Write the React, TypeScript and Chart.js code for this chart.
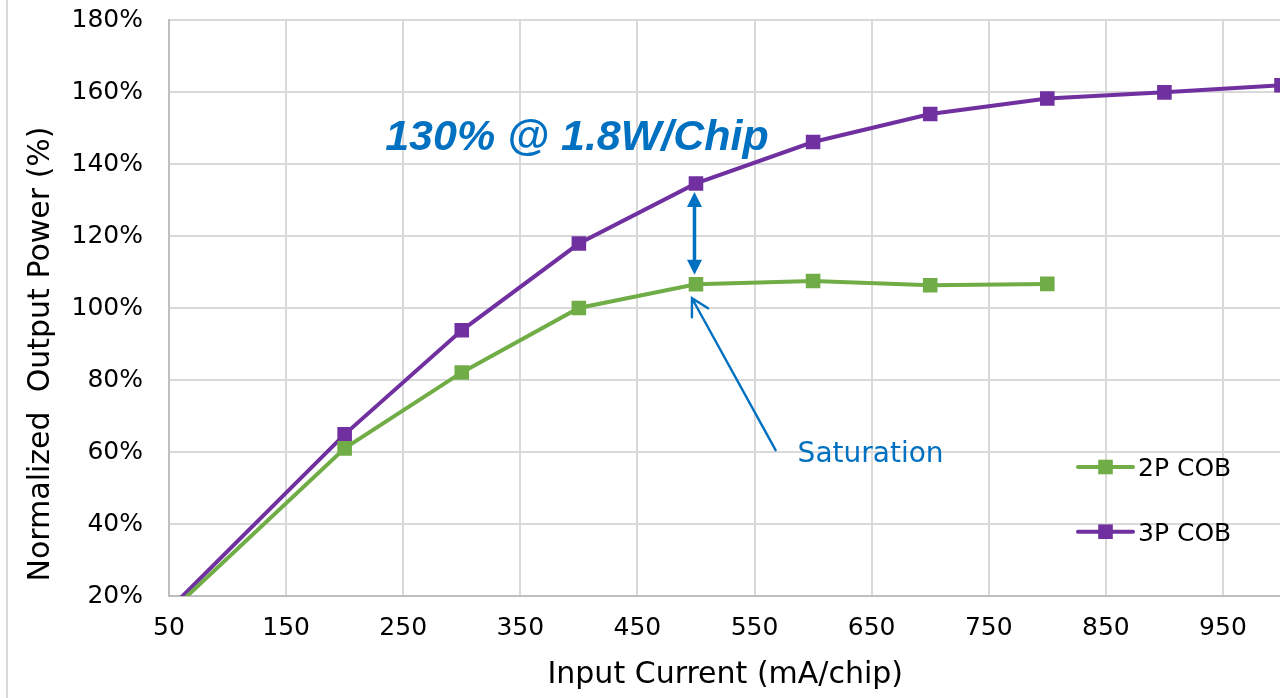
import React, { useEffect, useRef } from 'react';
import { Chart, registerables } from 'chart.js';

Chart.register(...registerables);

// Input current per chip (mA) and normalized output power (%) for each COB package
const currentMa = [0, 200, 300, 400, 500, 600, 700, 800, 900, 1000];
const output2P = [0, 61.0, 82.1, 100.0, 106.6, 107.5, 106.3, 106.7];
const output3P = [0, 64.9, 93.8, 117.9, 134.6, 146.1, 153.9, 158.2, 159.9, 161.9];
const seriesLabels = ['2P COB', '3P COB'];

// Axis ticks
const xTickValues = [50, 150, 250, 350, 450, 550, 650, 750, 850, 950];
const yMin = 20;
const yMax = 180;
const yStep = 20;

// Annotation texts
const headline = '130% @ 1.8W/Chip';
const calloutText = 'Saturation';
const compareAtMa = 500;
const xTitle = 'Input Current (mA/chip)';
const yTitle = 'Normalized  Output Power (%)';

const CANVAS_W = 1330;
const CANVAS_H = 698;
const GREEN = '#70AD47';
const PURPLE = '#7030A0';
const BLUE = '#0070C0';
const GRID = '#D9D9D9';
const AXIS = '#BFBFBF';
const FONT = '"DejaVu Sans", "Noto Sans", sans-serif';

function filledHead(ctx: CanvasRenderingContext2D, tx: number, ty: number, dx: number, dy: number, len: number, halfW: number) {
  const n = Math.hypot(dx, dy);
  const ux = dx / n;
  const uy = dy / n;
  const bx = tx - ux * len;
  const by = ty - uy * len;
  ctx.beginPath();
  ctx.moveTo(tx, ty);
  ctx.lineTo(bx - uy * halfW, by + ux * halfW);
  ctx.lineTo(bx + uy * halfW, by - ux * halfW);
  ctx.closePath();
  ctx.fill();
}

const overlayPlugin = {
  id: 'cobOverlay',
  afterDatasetsDraw(chart: any) {
    const { ctx, chartArea: area, scales } = chart;
    const xs = scales.x;
    const ys = scales.y;
    const idx = currentMa.indexOf(compareAtMa);
    ctx.save();

    // Headline
    ctx.fillStyle = BLUE;
    ctx.font = 'italic bold 43px "Liberation Sans", Arial, sans-serif';
    ctx.textAlign = 'left';
    ctx.textBaseline = 'alphabetic';
    ctx.fillText(headline, xs.getPixelForValue(234.6), ys.getPixelForValue(143.9));

    // Double-headed arrow between the two series
    const ax = xs.getPixelForValue(compareAtMa) - 1.5;
    const aTop = ys.getPixelForValue(output3P[idx]) + 8.5;
    const aBot = ys.getPixelForValue(output2P[idx]) - 9.5;
    ctx.strokeStyle = BLUE;
    ctx.lineWidth = 3.5;
    ctx.beginPath();
    ctx.moveTo(ax, aTop + 10);
    ctx.lineTo(ax, aBot - 10);
    ctx.stroke();
    filledHead(ctx, ax, aTop, 0, -1, 15, 7.5);
    filledHead(ctx, ax, aBot, 0, 1, 15, 7.5);

    // Saturation callout arrow
    const tipX = xs.getPixelForValue(compareAtMa) - 4;
    const tipY = ys.getPixelForValue(output2P[idx]) + 14;
    const tailX = xs.getPixelForValue(568);
    const tailY = ys.getPixelForValue(60.5);
    ctx.lineWidth = 2.4;
    ctx.lineCap = 'round';
    ctx.beginPath();
    ctx.moveTo(tailX, tailY);
    ctx.lineTo(tipX, tipY);
    const ang = Math.atan2(tailY - tipY, tailX - tipX);
    const wing = 19;
    const spread = (29 * Math.PI) / 180;
    ctx.moveTo(tipX + wing * Math.cos(ang - spread), tipY + wing * Math.sin(ang - spread));
    ctx.lineTo(tipX, tipY);
    ctx.lineTo(tipX + wing * Math.cos(ang + spread), tipY + wing * Math.sin(ang + spread));
    ctx.stroke();

    ctx.font = `28px ${FONT}`;
    ctx.fillText(calloutText, xs.getPixelForValue(586.8), ys.getPixelForValue(57.3));

    // Legend inside the plot
    const rows = [area.top + 447, area.top + 511.7];
    chart.data.datasets.forEach((ds: any, i: number) => {
      const yRow = rows[i];
      const x0 = area.right - 203.5;
      const x1 = area.right - 148.5;
      ctx.strokeStyle = ds.borderColor;
      ctx.fillStyle = ds.borderColor;
      ctx.lineWidth = 4;
      ctx.lineCap = 'round';
      ctx.beginPath();
      ctx.moveTo(x0, yRow);
      ctx.lineTo(x1, yRow);
      ctx.stroke();
      const cx = (x0 + x1) / 2;
      ctx.fillRect(cx - 7.3, yRow - 7.3, 14.6, 14.6);
      ctx.fillStyle = '#000';
      ctx.font = `25px ${FONT}`;
      ctx.textAlign = 'left';
      ctx.textBaseline = 'alphabetic';
      ctx.fillText(ds.label, area.right - 143.5, yRow + 9);
    });

    // Vertical axis title
    ctx.translate(area.left - 128, area.top + 334);
    ctx.rotate(-Math.PI / 2);
    ctx.fillStyle = '#000';
    ctx.font = `30px ${FONT}`;
    ctx.textAlign = 'center';
    ctx.textBaseline = 'middle';
    ctx.fillText(yTitle, 0, 0);
    ctx.restore();
  },
};

function makeSeries(label: string, values: number[], color: string) {
  return {
    label,
    data: values.map((v, i) => ({ x: currentMa[i], y: v })),
    borderColor: color,
    backgroundColor: color,
    borderWidth: 4,
    pointStyle: 'rect',
    pointRadius: 10.3,
    pointBorderWidth: 0,
    pointBackgroundColor: color,
    tension: 0,
  };
}

export default function App() {
  const canvasRef = useRef<HTMLCanvasElement>(null);

  useEffect(() => {
    const chart = new Chart(canvasRef.current as HTMLCanvasElement, {
      type: 'line',
      data: {
        datasets: [
          makeSeries(seriesLabels[0], output2P, GREEN),
          makeSeries(seriesLabels[1], output3P, PURPLE),
        ] as any,
      },
      options: {
        responsive: false,
        animation: false,
        devicePixelRatio: 1,
        events: [],
        layout: { padding: { left: 0, top: 20, right: CANVAS_W - 1281.5, bottom: 0 } },
        plugins: { legend: { display: false }, tooltip: { enabled: false } },
        scales: {
          x: {
            type: 'linear',
            min: 50,
            max: 1000,
            afterBuildTicks: (s: any) => {
              s.ticks = xTickValues.map((value) => ({ value }));
            },
            afterFit: (s: any) => {
              s.height = 102;
              s.paddingLeft = 0;
              s.paddingRight = 0;
            },
            grid: { color: GRID, lineWidth: 2, drawTicks: false },
            border: { color: AXIS, width: 2 },
            ticks: {
              padding: 17,
              color: '#000',
              font: { family: FONT, size: 25 },
              maxRotation: 0,
              autoSkip: false,
            },
            title: {
              display: true,
              text: xTitle,
              color: '#000',
              font: { family: FONT, size: 30 },
              padding: { top: 0, bottom: 4.5 },
            },
          },
          y: {
            min: yMin,
            max: yMax,
            afterFit: (s: any) => {
              s.width = 169;
              s.paddingTop = 0;
              s.paddingBottom = 0;
            },
            grid: { color: GRID, lineWidth: 2, drawTicks: false },
            border: { color: AXIS, width: 2 },
            ticks: {
              stepSize: yStep,
              padding: 26,
              color: '#000',
              font: { family: FONT, size: 25 },
              callback: (v: any) => `${v}%`,
            },
          },
        },
      } as any,
      plugins: [overlayPlugin],
    });
    return () => chart.destroy();
  }, []);

  return (
    <div
      style={{
        position: 'fixed',
        left: 0,
        top: 0,
        width: 1280,
        height: 698,
        overflow: 'hidden',
        background: '#fff',
      }}
    >
      <div style={{ position: 'absolute', left: 0, top: 0, width: CANVAS_W, height: CANVAS_H }}>
        <canvas
          ref={canvasRef}
          width={CANVAS_W}
          height={CANVAS_H}
          style={{ width: CANVAS_W, height: CANVAS_H, display: 'block' }}
        />
      </div>
      <div style={{ position: 'absolute', left: 6, top: 0, width: 2, height: CANVAS_H, background: GRID }} />
    </div>
  );
}
